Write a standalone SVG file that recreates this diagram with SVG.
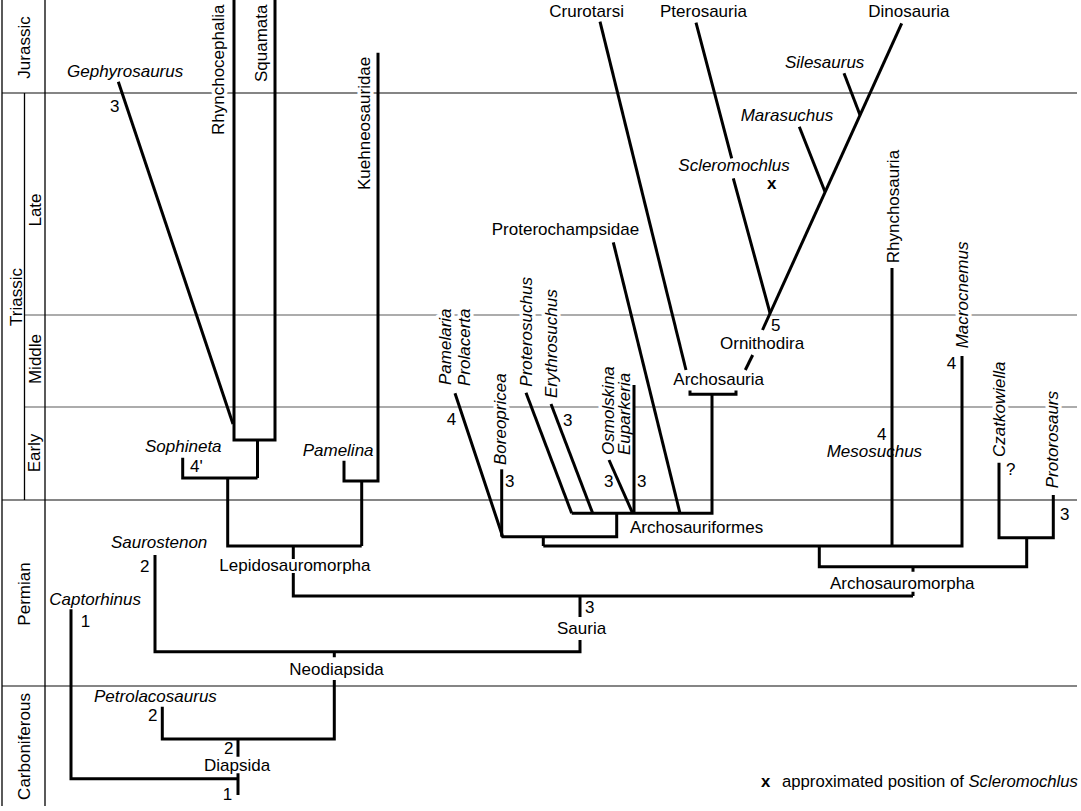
<svg xmlns="http://www.w3.org/2000/svg" width="1081" height="811" viewBox="0 0 1081 811">
<style>
text{font-family:"Liberation Sans",Arial,Helvetica,sans-serif;font-size:17px;fill:#000}
.i{font-style:italic}
.b{font-weight:bold}
.h{paint-order:stroke;stroke:#fff;stroke-width:7px;stroke-linejoin:round}
.era{stroke:#858585;stroke-width:2;fill:none}
.ep{stroke:#5a5a5a;stroke-width:1.2;fill:none}
.ax{stroke:#000;stroke-width:1.3;fill:none}
.br{stroke:#000;stroke-width:3;fill:none;stroke-linejoin:miter;stroke-linecap:butt}
</style>
<rect width="1081" height="811" fill="#fff"/>
<g id="timescale">
  <line class="era" x1="2" y1="93" x2="1077" y2="93"/>
  <line class="ep" x1="24.5" y1="315" x2="1077" y2="315"/>
  <line class="ep" x1="24.5" y1="407" x2="1077" y2="407"/>
  <line class="era" x1="2" y1="500" x2="1077" y2="500"/>
  <line class="era" x1="2" y1="686" x2="1077" y2="686"/>
  <line class="ax" x1="2" y1="0" x2="2" y2="806"/>
  <line class="ax" x1="45" y1="0" x2="45" y2="806"/>
  <line class="ax" x1="24.5" y1="93" x2="24.5" y2="500" stroke-width="1"/>
  <text transform="translate(30,47.5) rotate(-90)" text-anchor="middle">Jurassic</text>
  <text transform="translate(21.5,297) rotate(-90)" text-anchor="middle">Triassic</text>
  <text transform="translate(41,210) rotate(-90)" text-anchor="middle">Late</text>
  <text transform="translate(41,359) rotate(-90)" text-anchor="middle">Middle</text>
  <text transform="translate(40,453) rotate(-90)" text-anchor="middle">Early</text>
  <text transform="translate(29.5,594) rotate(-90)" text-anchor="middle">Permian</text>
  <text transform="translate(29.5,746.5) rotate(-90)" text-anchor="middle">Carboniferous</text>
</g>
<g id="n-rhynchocephalia"><text class="h" transform="translate(224,135) rotate(-90)">Rhynchocephalia</text></g>
<g id="n-squamata"><text class="h" transform="translate(266.5,82) rotate(-90)">Squamata</text></g>
<g id="n-kuehneosauridae"><text class="h" transform="translate(369.5,190) rotate(-90)">Kuehneosauridae</text></g>
<g id="n-pamelaria"><text class="h i" transform="translate(451,385) rotate(-90)">Pamelaria</text></g>
<g id="n-prolacerta"><text class="h i" transform="translate(469.5,386) rotate(-90)">Prolacerta</text></g>
<g id="n-boreopricea"><text class="h i" transform="translate(505.5,465) rotate(-90)">Boreopricea</text></g>
<g id="n-proterosuchus"><text class="h i" transform="translate(532,386.7) rotate(-90)">Proterosuchus</text></g>
<g id="n-erythrosuchus"><text class="h i" transform="translate(557,398) rotate(-90)">Erythrosuchus</text></g>
<g id="n-osmolskina"><text class="h i" transform="translate(614,455) rotate(-90)">Osmolskina</text></g>
<g id="n-euparkeria"><text class="h i" transform="translate(629.5,455) rotate(-90)">Euparkeria</text></g>
<g id="n-rhynchosauria"><text class="h" transform="translate(899,263.3) rotate(-90)">Rhynchosauria</text></g>
<g id="n-macrocnemus"><text class="h i" transform="translate(967.5,348.3) rotate(-90)">Macrocnemus</text></g>
<g id="n-czatkowiella"><text class="h i" transform="translate(1004.5,457) rotate(-90)">Czatkowiella</text></g>
<g id="n-protorosaurs"><text class="h i" transform="translate(1058,488.3) rotate(-90)">Protorosaurs</text></g>
<g id="connectors" class="br">
  <path d="M234,0 V440 H275 V0"/>
  <path d="M257.5,440 V478"/>
  <path d="M182.7,457.7 V478 H257.5"/>
  <path d="M227.7,478 V546 H361.7"/>
  <path d="M118.3,81.7 L233,424"/>
  <path d="M344,460.7 V481 H378 V52.7"/>
  <path d="M361.7,481 V546"/>
  <path d="M293.3,546 V559 M293.3,573 V596 H913"/>
  <path d="M913,566.7 V571.7 M913,591.7 V596"/>
  <path d="M819.3,546 V566.7 H1026.7 V537.7"/>
  <path d="M999,462.7 V537.7 H1053.3 V495"/>
  <path d="M543.3,546 H962 V356"/>
  <path d="M892,268 V546"/>
  <path d="M543.3,536.7 V546"/>
  <path d="M455,393.3 L502.7,536.7 H616.7 V513.3"/>
  <path d="M501.7,469.3 V536.7"/>
  <path d="M571.7,513.3 H712 V394.3"/>
  <path d="M526,392.7 L571.7,513.3"/>
  <path d="M551,404 L592.7,513.3"/>
  <path d="M609,460 L632.7,513.3"/>
  <path d="M634,385 V513.3"/>
  <path d="M613.3,242.3 L680,513.3"/>
  <path d="M690,390.5 V394.3 H736 V390.5"/>
  <path d="M600,21.7 L686,370"/>
  <path d="M696,22.7 L731.7,158.3 M733.3,178.3 L770,313"/>
  <path d="M901.7,23.3 L762.5,330"/>
  <path d="M752.7,355 L745.3,370"/>
  <path d="M844,73.3 L860,115"/>
  <path d="M799.3,126.7 L825,191.7"/>
  <path d="M580,596 V617 M580,640 V651.7 H155 V555"/>
  <path d="M334.3,651.7 V657.3 M334.3,680 V739 H162.3 V706.7"/>
  <path d="M238,739 V756.7 M238,773.3 V795"/>
  <path d="M71,609.3 V778.7 H238"/>
</g>
<g id="n-gephyrosaurus"><text class="i" x="67" y="77">Gephyrosaurus</text><text x="110" y="112">3</text></g>
<g id="n-crurotarsi"><text x="549.3" y="17">Crurotarsi</text></g>
<g id="n-pterosauria"><text x="660" y="17">Pterosauria</text></g>
<g id="n-dinosauria"><text x="868.3" y="17">Dinosauria</text></g>
<g id="n-silesaurus"><text class="i" x="785" y="67.7">Silesaurus</text></g>
<g id="n-marasuchus"><text class="i" x="740.7" y="120.7">Marasuchus</text></g>
<g id="n-scleromochlus"><text class="i" x="678.3" y="171">Scleromochlus</text><text class="b" x="771.7" y="189" text-anchor="middle">x</text></g>
<g id="n-proterochampsidae"><text x="565.5" y="235" text-anchor="middle">Proterochampsidae</text></g>
<g id="n-ornithodira"><text x="720" y="348.8">Ornithodira</text><text x="771" y="331">5</text></g>
<g id="n-archosauria"><text x="673.3" y="385">Archosauria</text></g>
<g id="n-sophineta"><text class="i" x="145" y="452">Sophineta</text><text x="190" y="471.7">4'</text></g>
<g id="n-pamelina"><text class="i" x="302.7" y="456">Pamelina</text></g>
<g id="n-labels-early">
  <text x="446.7" y="425">4</text>
  <text x="505" y="486.7">3</text>
  <text x="563" y="426">3</text>
  <text x="604" y="487.3">3</text>
  <text x="637" y="487.3">3</text>
</g>
<g id="n-archosauriformes"><text x="630" y="533.3">Archosauriformes</text></g>
<g id="n-mesosuchus"><text x="877" y="440">4</text><text class="i" x="826.7" y="457.3">Mesosuchus</text></g>
<g id="n-macrocnemus-num"><text x="946.7" y="369">4</text></g>
<g id="n-czatkowiella-num"><text x="1006" y="475">?</text></g>
<g id="n-protorosaurs-num"><text x="1060" y="520">3</text></g>
<g id="n-saurostenon"><text class="i" x="207.3" y="548.3" text-anchor="end">Saurostenon</text><text x="140" y="571.7">2</text></g>
<g id="n-lepidosauromorpha"><text x="219.3" y="570.7">Lepidosauromorpha</text></g>
<g id="n-archosauromorpha"><text x="830" y="589">Archosauromorpha</text></g>
<g id="n-sauria"><text x="585" y="613">3</text><text x="557" y="634">Sauria</text></g>
<g id="n-captorhinus"><text class="i" x="49.3" y="605">Captorhinus</text><text x="80.7" y="627.3">1</text></g>
<g id="n-neodiapsida"><text x="289.3" y="675">Neodiapsida</text></g>
<g id="n-petrolacosaurus"><text class="i" x="94" y="702">Petrolacosaurus</text><text x="148" y="721">2</text></g>
<g id="n-diapsida"><text x="224" y="754">2</text><text x="204" y="771">Diapsida</text><text x="222.7" y="800">1</text></g>
<g id="legend"><text class="b" x="761" y="787" style="font-size:16.7px">x</text><text x="782" y="787" style="font-size:16.7px">approximated position of <tspan class="i">Scleromochlus</tspan></text></g>
</svg>
